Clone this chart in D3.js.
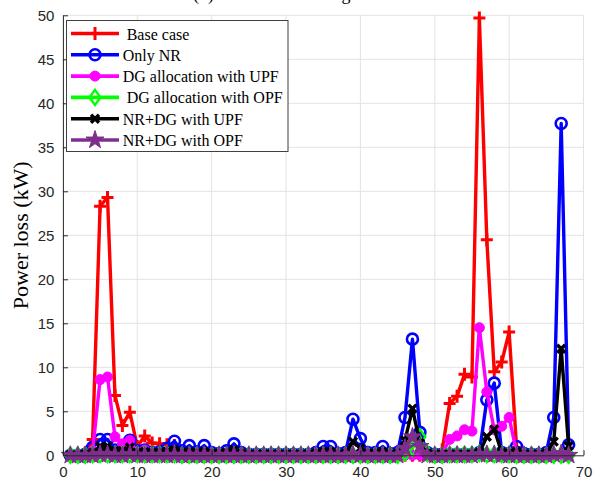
<!DOCTYPE html>
<html>
<head>
<meta charset="utf-8">
<script src="https://cdn.jsdelivr.net/npm/d3@7/dist/d3.min.js"></script>
<style>
  html, body { margin: 0; padding: 0; background: #fff; }
  svg { display: block; }
</style>
</head>
<body>
<svg id="chart" width="593" height="481"></svg>
<script>
// Branch numbers 1..68
const branches = d3.range(1, 69);

// Power loss per branch (kW) for each case
const baseCase = [
  0.05, 0.1, 0.3, 1.8, 28.3, 29.3, 6.8, 3.4, 4.9, 1.0,
  2.2, 1.4, 1.3, 1.2, 1.1, 0.3, 0.3, 0.0, 0.1, 0.0,
  0.1, 0.0, 0.0, 0.1, 0.1, 0.0, 0.0, 0.0, 0.0, 0.0,
  0.0, 0.0, 0.1, 0.0, 0.0, 0.0, 0.0, 0.0, 0.0, 0.0,
  0.0, 0.0, 0.0, 0.0, 0.0, 0.0, 0.0, 0.0, 0.0, 0.0,
  0.6, 5.9, 6.7, 9.2, 8.9, 49.7, 24.5, 9.5, 10.6, 14.0,
  0.9, 0.1, 0.0, 0.0, 0.0, 0.0, 0.0, 0.0
];
const onlyNR = [
  0.0, 0.0, 0.1, 0.9, 1.8, 1.8, 0.6, 0.7, 1.7, 0.5,
  0.6, 0.3, 0.4, 0.8, 1.6, 0.5, 1.1, 0.4, 1.1, 0.3,
  0.2, 0.5, 1.3, 0.3, 0.1, 0.1, 0.1, 0.1, 0.1, 0.1,
  0.1, 0.1, 0.1, 0.3, 1.0, 1.0, 0.2, 0.3, 4.1, 1.9,
  0.3, 0.3, 1.0, 0.2, 0.3, 4.3, 13.2, 2.6, 0.3, 0.1,
  0.1, 0.1, 0.1, 0.1, 0.1, 0.3, 6.3, 8.2, 0.3, 0.2,
  1.0, 0.2, 0.1, 0.1, 0.3, 4.3, 37.7, 1.2
];
const dgUPF = [
  0.0, 0.0, 0.1, 0.5, 8.6, 8.9, 2.1, 1.3, 1.7, 0.3,
  0.6, 0.3, 0.2, 0.2, 0.2, 0.1, 0.1, 0.0, 0.1, 0.0,
  0.0, 0.0, 0.0, 0.0, 0.0, 0.0, 0.0, 0.0, 0.0, 0.0,
  0.0, 0.0, 0.0, 0.0, 0.0, 0.0, 0.0, 0.0, 0.0, 0.0,
  0.0, 0.0, 0.0, 0.0, 0.0, 0.0, 0.0, 0.0, 0.0, 0.0,
  0.2, 1.8, 2.2, 2.9, 2.75, 14.5, 7.2, 2.9, 3.3, 4.3,
  0.3, 0.1, 0.0, 0.0, 0.0, 0.0, 0.0, 0.0
];
const dgOPF = [
  0.0, 0.0, 0.0, 0.1, 0.1, 0.1, 0.1, 0.1, 0.1, 0.1,
  0.1, 0.1, 0.1, 0.1, 0.1, 0.0, 0.0, 0.0, 0.0, 0.0,
  0.0, 0.0, 0.0, 0.0, 0.0, 0.0, 0.0, 0.0, 0.0, 0.0,
  0.0, 0.0, 0.0, 0.0, 0.0, 0.0, 0.0, 0.0, 0.0, 0.0,
  0.0, 0.0, 0.0, 0.0, 0.0, 0.3, 0.8, 2.1, 0.2, 0.0,
  0.0, 0.1, 0.1, 0.1, 0.1, 0.2, 0.1, 0.1, 0.1, 0.1,
  0.0, 0.0, 0.0, 0.0, 0.0, 0.0, 0.0, 0.0
];
const nrDgUPF = [
  0.0, 0.0, 0.1, 0.3, 1.0, 1.0, 0.5, 0.5, 0.9, 0.3,
  0.4, 0.3, 0.3, 0.4, 0.6, 0.3, 0.4, 0.3, 0.4, 0.2,
  0.2, 0.3, 0.6, 0.2, 0.1, 0.1, 0.1, 0.1, 0.1, 0.1,
  0.1, 0.1, 0.1, 0.2, 0.4, 0.4, 0.1, 0.2, 1.55, 0.8,
  0.2, 0.2, 0.4, 0.1, 0.2, 1.7, 5.3, 1.4, 0.2, 0.1,
  0.1, 0.1, 0.1, 0.1, 0.1, 0.3, 2.1, 2.95, 0.3, 0.2,
  0.4, 0.1, 0.1, 0.1, 0.2, 1.55, 12.1, 1.05
];
const nrDgOPF = [
  0.0, 0.0, 0.0, 0.0, 0.1, 0.1, 0.0, 0.0, 0.1, 0.0,
  0.0, 0.0, 0.0, 0.0, 0.0, 0.0, 0.0, 0.0, 0.0, 0.0,
  0.0, 0.0, 0.0, 0.0, 0.0, 0.0, 0.0, 0.0, 0.0, 0.0,
  0.0, 0.0, 0.0, 0.0, 0.0, 0.0, 0.0, 0.0, 0.1, 0.0,
  0.0, 0.0, 0.0, 0.0, 0.0, 0.8, 2.1, 1.0, 0.0, 0.0,
  0.0, 0.0, 0.0, 0.0, 0.0, 0.1, 0.1, 0.1, 0.0, 0.0,
  0.0, 0.0, 0.0, 0.0, 0.0, 0.1, 0.2, 0.0
];

const seriesNames = [" Base case", "Only NR", "DG allocation with UPF", " DG allocation with OPF", "NR+DG with UPF", "NR+DG with OPF"];
const seriesValues = [baseCase, onlyNR, dgUPF, dgOPF, nrDgUPF, nrDgOPF];
const seriesColors = ["#ff0000", "#0000ff", "#ff00ff", "#00ff00", "#000000", "#7e2f8e"];
const seriesMarkers = ["plus", "circle", "dot", "diamond", "cross", "star"];

const xTicks = [0, 10, 20, 30, 40, 50, 60, 70];
const yTicks = [0, 5, 10, 15, 20, 25, 30, 35, 40, 45, 50];
const titleText = "(b) Power loss among all branches";
const yLabel = "Power loss (kW)";

const svg = d3.select("#chart");
const plotLeft = 62.9, plotRight = 583.5, plotTop = 15.3, plotBottom = 455.3;

const x = d3.scaleLinear().domain([0, 70]).range([plotLeft, plotRight]);
const y = d3.scaleLinear().domain([0, 50]).range([plotBottom, plotTop]);

const axisColor = "#262626";
const serif = "'Liberation Serif', 'Times New Roman', serif";
const sans = "'Liberation Sans', Arial, Helvetica, sans-serif";

// Title (sits at the very top edge)
svg.append("text")
  .attr("x", 193).attr("y", -0.5)
  .attr("font-family", serif).attr("font-size", 18)
  .attr("fill", "#000")
  .text(titleText);

// Grid
const grid = svg.append("g").attr("stroke", "#e3e3e3").attr("stroke-width", 1);
grid.selectAll("line.gx").data(xTicks.filter(d => d > 0)).join("line")
  .attr("x1", d => x(d)).attr("x2", d => x(d))
  .attr("y1", plotTop).attr("y2", plotBottom);
grid.selectAll("line.gy").data(yTicks.filter(d => d > 0)).join("line")
  .attr("x1", plotLeft).attr("x2", plotRight)
  .attr("y1", d => y(d)).attr("y2", d => y(d));

// Marker shapes
function markerPath(type) {
  switch (type) {
    case "plus": return "M-6,0H6M0,-6.5V6.5";
    case "cross": return "M-4,-4L4,4M-4,4L4,-4";
    case "diamond": return "M0,-7.5L5.5,0L0,7.5L-5.5,0Z";
    case "star": {
      const R = 9.5, r = R * 0.382;
      let p = "";
      for (let k = 0; k < 10; k++) {
        const a = -Math.PI / 2 + k * Math.PI / 5;
        const rr = k % 2 === 0 ? R : r;
        p += (k === 0 ? "M" : "L") + (rr * Math.cos(a)).toFixed(2) + "," + (rr * Math.sin(a)).toFixed(2);
      }
      return p + "Z";
    }
    default: return null;
  }
}

function drawMarker(sel, type, color) {
  if (type === "circle") {
    sel.append("circle").attr("r", 5.5).attr("fill", "none")
      .attr("stroke", color).attr("stroke-width", 2.6);
  } else if (type === "dot") {
    sel.append("circle").attr("r", 5).attr("fill", color)
      .attr("stroke", color).attr("stroke-width", 1);
  } else if (type === "star") {
    sel.append("path").attr("d", markerPath(type)).attr("fill", color)
      .attr("stroke", color).attr("stroke-width", 1).attr("stroke-linejoin", "round");
  } else if (type === "diamond") {
    sel.append("path").attr("d", markerPath(type)).attr("fill", "none")
      .attr("stroke", color).attr("stroke-width", 2.4);
  } else if (type === "cross") {
    sel.append("path").attr("d", markerPath(type)).attr("fill", "none")
      .attr("stroke", color).attr("stroke-width", 3.4);
  } else {
    sel.append("path").attr("d", markerPath(type)).attr("fill", "none")
      .attr("stroke", color).attr("stroke-width", 3);
  }
}

const line = d3.line().x((d, i) => x(branches[i])).y(d => y(d));

// Series: line then markers, drawn in legend order
seriesValues.forEach((vals, s) => {
  const g = svg.append("g");
  g.append("path").datum(vals)
    .attr("d", line)
    .attr("fill", "none")
    .attr("stroke", seriesColors[s])
    .attr("stroke-width", 3.4)
    .attr("stroke-linejoin", "round");
  g.selectAll("g.m").data(vals).join("g")
    .attr("transform", (d, i) => `translate(${x(branches[i])},${y(d)})`)
    .each(function () { drawMarker(d3.select(this), seriesMarkers[s], seriesColors[s]); });
});

// Axes (ticks point inward)
const yAxis = d3.axisLeft(y).tickValues(yTicks).tickSizeInner(-5).tickSizeOuter(0).tickPadding(8.5);
const xAxis = d3.axisBottom(x).tickValues(xTicks).tickSizeInner(-5).tickSizeOuter(0).tickPadding(11.5);

const gy = svg.append("g").attr("transform", `translate(${plotLeft},0)`).call(yAxis);
const gx = svg.append("g").attr("transform", `translate(0,${plotBottom})`).call(xAxis);
[gx, gy].forEach(g => {
  g.select(".domain").attr("stroke", axisColor).attr("stroke-width", 1);
  g.selectAll(".tick line").attr("stroke", axisColor);
  g.selectAll(".tick text").attr("fill", axisColor)
    .attr("font-family", sans).attr("font-size", 15);
});

// Y label
svg.append("text")
  .attr("transform", `translate(27.5,${(plotTop + plotBottom) / 2}) rotate(-90)`)
  .attr("text-anchor", "middle")
  .attr("font-family", serif).attr("font-size", 22)
  .attr("fill", "#000")
  .text(yLabel);

// Legend
const lg = svg.append("g");
lg.append("rect").attr("x", 66.5).attr("y", 20.5).attr("width", 221.5).attr("height", 131)
  .attr("fill", "#fff").attr("stroke", "#404040").attr("stroke-width", 1);
seriesNames.forEach((name, s) => {
  const cy = 33.5 + s * 21.3;
  const row = lg.append("g");
  row.append("line").attr("x1", 71).attr("x2", 119).attr("y1", cy).attr("y2", cy)
    .attr("stroke", seriesColors[s]).attr("stroke-width", 3.6);
  drawMarker(row.append("g").attr("transform", `translate(95,${cy})`), seriesMarkers[s], seriesColors[s]);
  row.append("text").attr("x", 122.7).attr("y", cy + 6)
    .attr("font-family", serif).attr("font-size", 16)
    .style("white-space", "pre")
    .attr("fill", "#000")
    .text(name);
});
</script>
</body>
</html>
